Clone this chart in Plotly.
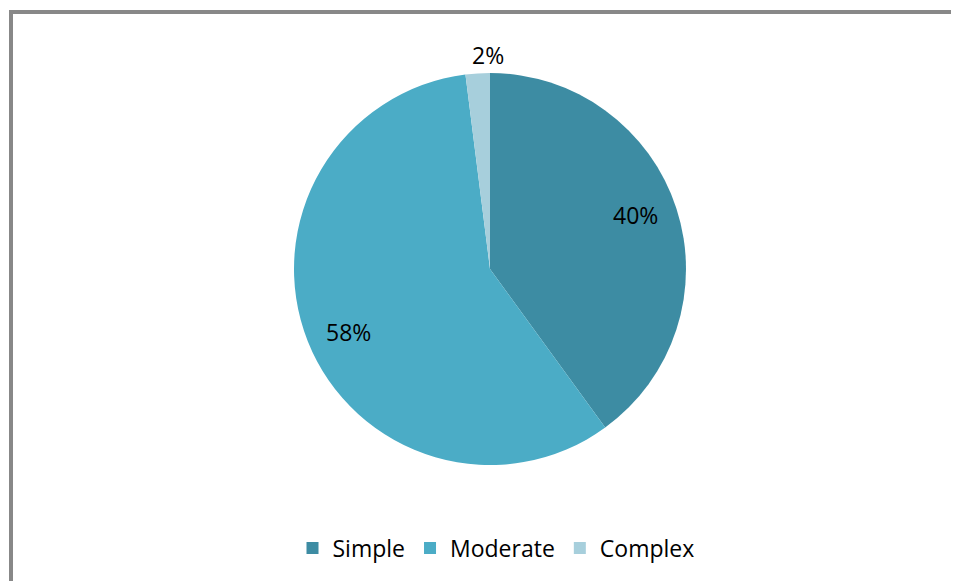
import math
import plotly.graph_objects as go

categories = ["Simple", "Moderate", "Complex"]
values = [40, 58, 2]
colors = ["#3d8ca3", "#4bacc6", "#a7cfdc"]
label_inside = [True, True, False]

# page body has an 8px margin; figure is sized to fill the remaining window
W, H = 951, 573
OFF = 8

# pie geometry (pixels in the window)
CX, CY, R = 490, 269, 196
cx, cy = CX - OFF, CY - OFF

FONT = "Open Sans"
FS = 23

fig = go.Figure()
fig.add_trace(go.Pie(
    labels=categories,
    values=values,
    sort=False,
    direction="clockwise",
    rotation=0,
    marker=dict(colors=colors, line=dict(width=0)),
    textinfo="none",
    domain=dict(x=[(cx - R) / W, (cx + R) / W],
                y=[(H - (cy + R)) / H, (H - (cy - R)) / H]),
    hoverinfo="label+percent",
))

# percentage labels placed along each slice's bisector
total = sum(values)
annotations = []
cum = 0
for v, inside in zip(values, label_inside):
    theta = 2 * math.pi * (cum + v / 2) / total
    if inside:
        theta -= math.radians(2.5)
        d = 0.79 * R
    else:
        theta += math.radians(3)
        d = R + 18
    px = cx + d * math.sin(theta)
    py = cy - d * math.cos(theta)
    annotations.append(dict(
        x=px / W, y=(H - py) / H, xref="paper", yref="paper",
        text=f"{round(100 * v / total)}%", showarrow=False,
        xanchor="center", yanchor="middle",
        font=dict(family=FONT, size=FS, color="#000000"),
    ))
    cum += v

fig.update_layout(
    width=W,
    height=H,
    margin=dict(l=0, r=0, t=0, b=0),
    paper_bgcolor="#ffffff",
    plot_bgcolor="#ffffff",
    showlegend=True,
    legend=dict(
        orientation="h",
        x=(496 - OFF) / W,
        xanchor="center",
        y=(H - (548 - OFF)) / H,
        yanchor="middle",
        font=dict(family=FONT, size=FS, color="#000000"),
        itemwidth=30,
        traceorder="normal",
    ),
    annotations=annotations,
    shapes=[
        dict(type="line", xref="paper", yref="paper",
             x0=(9 - OFF) / W, x1=1.0, y0=(H - (12 - OFF)) / H, y1=(H - (12 - OFF)) / H,
             line=dict(color="#888888", width=4)),
        dict(type="line", xref="paper", yref="paper",
             x0=(11 - OFF) / W, x1=(11 - OFF) / W, y0=0, y1=(H - (10 - OFF)) / H,
             line=dict(color="#888888", width=4)),
    ],
)

fig.write_html("out.html")
